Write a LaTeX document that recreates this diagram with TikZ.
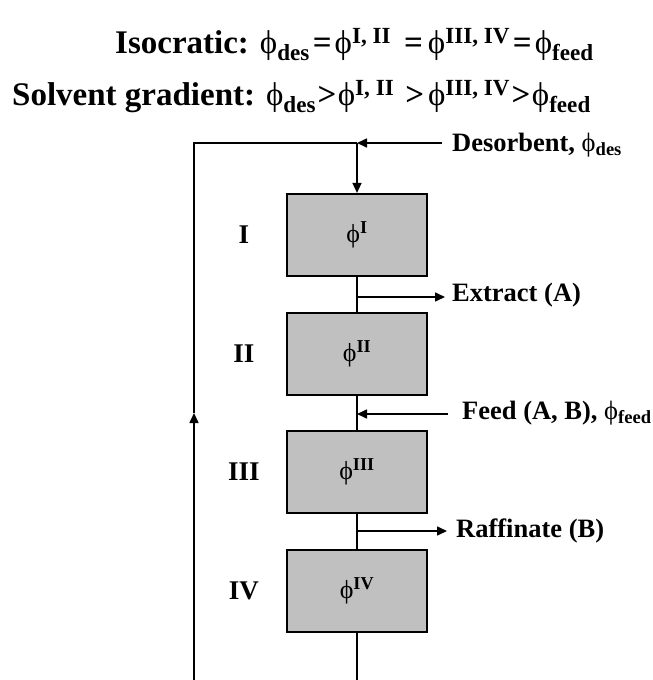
\documentclass[tikz,border=0pt]{standalone}
\usepackage{fontspec}
\setmainfont{Liberation Serif}
\newfontfamily\phifont{Liberation Serif}
\usetikzlibrary{arrows.meta}
\definecolor{boxgray}{RGB}{192,192,192}
\newcommand\ph{{\phifont\mdseries ϕ}}
\newcommand\mysub[1]{\textsubscript{\bfseries #1}}
\newcommand\mysup[1]{\textsuperscript{\bfseries #1}}
\newcommand\rel[1]{\kern3pt#1\kern3pt}
\newcommand\relg[1]{\kern1.5pt#1\kern1.5pt}
\begin{document}
\begin{tikzpicture}[x=1pt,y=-1pt,
  col/.style={draw, line width=2.2pt, fill=boxgray, minimum width=140pt, minimum height=82pt, inner sep=0pt, font=\fontsize{26}{30}\selectfont},
  lbl/.style={font=\bfseries\fontsize{26.5}{31}\selectfont, inner sep=0pt, anchor=west},
  rom/.style={font=\bfseries\fontsize{27}{32}\selectfont, inner sep=0pt},
  ttl/.style={font=\bfseries\fontsize{33}{38}\selectfont, inner sep=0pt, anchor=base west},
  pipe/.style={line width=1.4pt},
  arr/.style={line width=1.6pt, -{Triangle[length=10pt,width=9pt]}}]
\useasboundingbox (0,0) rectangle (653,680);
\node[ttl] (t1) at (115,53) {Isocratic: \ph\mysub{des}\rel{=}\ph\mysup{I, II}\kern13pt=\kern5pt\ph\mysup{III, IV}\rel{=}\ph\mysub{feed}};
\node[ttl] (t2) at (12,105) {Solvent gradient: \ph\mysub{des}\relg{>}\ph\mysup{I, II}\kern11pt>\kern4pt\ph\mysup{III, IV}\relg{>}\ph\mysub{feed}};
\node[col] (c1) at (357,235) {\ph\mysup{I}};
\node[col] (c2) at (357,354) {\ph\mysup{II}};
\node[col] (c3) at (357,472) {\ph\mysup{III}};
\node[col] (c4) at (357,591) {\ph\mysup{IV}};
\node[rom] at ([xshift=-42pt]c1.west) {I};
\node[rom] at ([xshift=-42pt]c2.west) {II};
\node[rom] at ([xshift=-42pt]c3.west) {III};
\node[rom] at ([xshift=-42pt]c4.west) {IV};
\coordinate (top) at (357,143);
\coordinate (topleft) at (194,143);
\coordinate (uparrow) at (194,413);
\coordinate (botleft) at (194,680);
\coordinate (botcol) at (357,680);
\node[lbl] (des) at (452,145) {Desorbent, \ph\mysub{des}};
\node[lbl] (ext) at (452,295) {Extract (A)};
\node[lbl] (feed) at (462,413) {Feed (A, B), \ph\mysub{feed}};
\node[lbl] (raf) at (456,531) {Raffinate (B)};
\draw[arr] (des.west |- top) ++(-10,0) -- (top);
\draw[arr] (top) -- (c1.north);
\draw[pipe] (top) -- (topleft) -- (uparrow);
\draw[arr] (botleft) -- (uparrow);
\draw[pipe] (c1.south) -- (c2.north);
\draw[pipe] (c2.south) -- (c3.north);
\draw[pipe] (c3.south) -- (c4.north);
\draw[pipe] (c4.south) -- (botcol);
\draw[arr] ([yshift=-2pt]c1.south |- ext.west) -- ([xshift=-7pt,yshift=-2pt]ext.west);
\draw[arr] ([xshift=-14pt,yshift=-1pt]feed.west) -- ([yshift=-1pt]c2.south |- feed.west);
\draw[arr] (c3.south |- raf.west) -- ([xshift=-9pt]raf.west);
\end{tikzpicture}
\end{document}
